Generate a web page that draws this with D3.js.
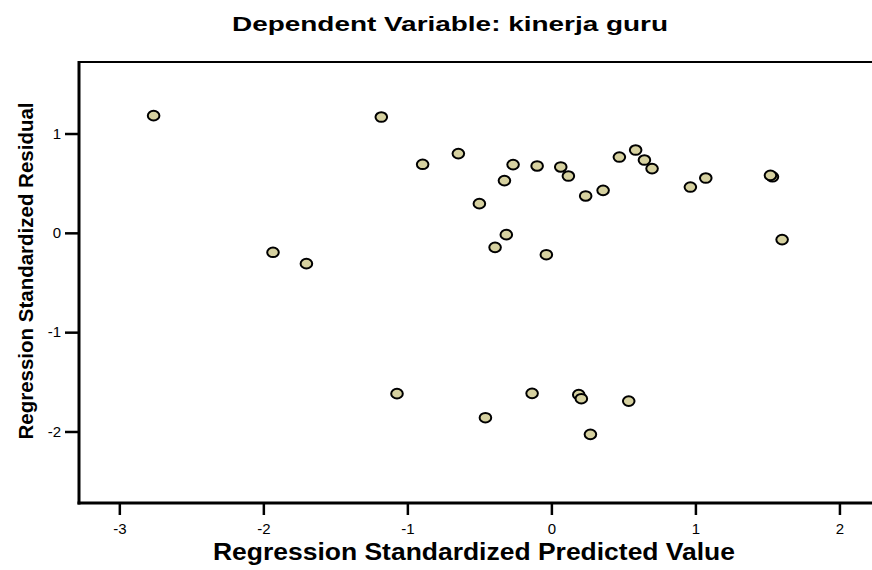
<!DOCTYPE html>
<html>
<head>
<meta charset="utf-8">
<script src="https://cdn.jsdelivr.net/npm/d3@7"></script>
<style>
  html, body { margin: 0; padding: 0; background: #fff; }
  svg { display: block; }
  text { font-family: "Liberation Sans", Arial, Helvetica, sans-serif; fill: #000; }
</style>
</head>
<body>
<svg id="chart" width="872" height="570"></svg>
<script>
// Standardized predicted values (x) and standardized residuals (y)
const predicted = [-2.762, -1.181, -0.894, -0.646, -1.933, -1.701, -0.500, -0.326, -0.266, -0.099,
  0.065, 0.118, 0.238, 0.359, 0.472, 0.585, 0.646, 0.699, 0.965, 1.072,
  1.535, 1.521, 1.602, -0.313, -0.391, -0.035, -1.072, -0.458, -0.134, 0.190,
  0.208, 0.537, 0.271];
const residual = [1.180, 1.166, 0.690, 0.798, -0.196, -0.310, 0.294, 0.526, 0.687, 0.673,
  0.663, 0.572, 0.371, 0.428, 0.763, 0.834, 0.733, 0.647, 0.461, 0.552,
  0.564, 0.579, -0.068, -0.018, -0.146, -0.220, -1.619, -1.861, -1.616, -1.629,
  -1.670, -1.694, -2.029];
const xTicks = [-3, -2, -1, 0, 1, 2];
const yTicks = [-2, -1, 0, 1];
const xDomain = [-3.28, 2.24];
const yDomain = [-2.72, 1.72];

const titleText = "Dependent Variable: kinerja guru";
const xLabel = "Regression Standardized Predicted Value";
const yLabel = "Regression Standardized Residual";

const svg = d3.select("#chart");
const plotLeft = 79, plotRight = 874, plotTop = 62, plotBottom = 503;

const x = d3.scaleLinear().domain(xDomain).range([plotLeft, plotRight]);
const y = d3.scaleLinear().domain(yDomain).range([plotBottom, plotTop]);

// Title (wide bold lettering)
svg.append("text")
  .attr("x", 450).attr("y", 31)
  .attr("text-anchor", "middle")
  .attr("font-size", 20).attr("font-weight", "bold")
  .attr("textLength", 436).attr("lengthAdjust", "spacingAndGlyphs")
  .text(titleText);

// Top frame line
svg.append("line")
  .attr("x1", plotLeft).attr("x2", plotRight)
  .attr("y1", plotTop).attr("y2", plotTop)
  .attr("stroke", "#000").attr("stroke-width", 2);

// Axes
const tickFmt = d => String(d);
const xAxis = d3.axisBottom(x).tickValues(xTicks).tickSize(12).tickPadding(8).tickFormat(tickFmt);
const yAxis = d3.axisLeft(y).tickValues(yTicks).tickSize(14).tickPadding(4).tickFormat(tickFmt);

const gx = svg.append("g").attr("transform", `translate(0,${plotBottom})`).call(xAxis);
const gy = svg.append("g").attr("transform", `translate(${plotLeft},0)`).call(yAxis);

[gx, gy].forEach(g => {
  g.select(".domain").remove();
  g.attr("font-size", 15).attr("font-family", "'Liberation Sans', Arial, sans-serif");
  g.selectAll(".tick line").attr("stroke", "#000").attr("stroke-width", 2.5);
  g.selectAll(".tick text").attr("fill", "#000");
});

// Axis lines
svg.append("line")
  .attr("x1", plotLeft).attr("x2", plotLeft).attr("y1", plotTop - 1).attr("y2", plotBottom + 1.5)
  .attr("stroke", "#000").attr("stroke-width", 3);
svg.append("line")
  .attr("x1", plotLeft - 1.5).attr("x2", plotRight).attr("y1", plotBottom).attr("y2", plotBottom)
  .attr("stroke", "#000").attr("stroke-width", 3);

// Axis titles
svg.append("text")
  .attr("x", 474).attr("y", 560)
  .attr("text-anchor", "middle")
  .attr("font-size", 23).attr("font-weight", "bold")
  .attr("textLength", 522).attr("lengthAdjust", "spacingAndGlyphs")
  .text(xLabel);

svg.append("text")
  .attr("transform", "translate(33,271) rotate(-90)")
  .attr("text-anchor", "middle")
  .attr("font-size", 20).attr("font-weight", "bold")
  .attr("textLength", 337).attr("lengthAdjust", "spacingAndGlyphs")
  .text(yLabel);

// Points
svg.append("g")
  .selectAll("ellipse")
  .data(predicted.map((p, i) => ({ p, r: residual[i] })))
  .join("ellipse")
  .attr("cx", d => x(d.p))
  .attr("cy", d => y(d.r))
  .attr("rx", 5.8).attr("ry", 4.8)
  .attr("fill", "#d6d1a0")
  .attr("stroke", "#000").attr("stroke-width", 2);
</script>
</body>
</html>
